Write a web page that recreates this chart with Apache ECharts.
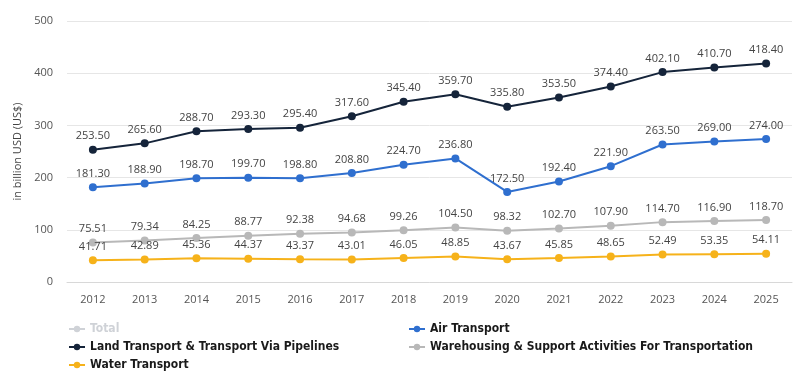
<!DOCTYPE html>
<html><head><meta charset="utf-8">
<script src="https://cdn.jsdelivr.net/npm/echarts@6/dist/echarts.min.js"></script>
<style>html,body{margin:0;padding:0;background:#fff}#c{width:800px;height:380px}</style>
</head><body><div id="c"></div>
<script>
const years = ['2012','2013','2014','2015','2016','2017','2018','2019','2020','2021','2022','2023','2024','2025'];
const total = [];
const land = [253.5,265.6,288.7,293.3,295.4,317.6,345.4,359.7,335.8,353.5,374.4,402.1,410.7,418.4];
const air = [181.3,188.9,198.7,199.7,198.8,208.8,224.7,236.8,172.5,192.4,221.9,263.5,269.0,274.0];
const warehousing = [75.51,79.34,84.25,88.77,92.38,94.68,99.26,104.5,98.32,102.7,107.9,114.7,116.9,118.7];
const water = [41.71,42.89,45.36,44.37,43.37,43.01,46.05,48.85,43.67,45.85,48.65,52.49,53.35,54.11];
const yTicks = [0,100,200,300,400,500];

const names = ['Total','Air Transport','Land Transport & Transport Via Pipelines','Warehousing & Support Activities For Transportation','Water Transport'];
const colors = {'Total':'#9a9a9a','Air Transport':'#2f6fcf','Land Transport & Transport Via Pipelines':'#15243a','Warehousing & Support Activities For Transportation':'#b8b8b8','Water Transport':'#f6b21a'};
const dataMap = {'Total':total,'Air Transport':air,'Land Transport & Transport Via Pipelines':land,'Warehousing & Support Activities For Transportation':warehousing,'Water Transport':water};

const chart = echarts.init(document.getElementById('c'));
const legendText = {fontFamily:'"DejaVu Sans Condensed", "Liberation Sans Narrow", sans-serif', fontSize:12, fontWeight:'bold', color:'#1a1a1a'};
chart.setOption({
  animation:false,
  grid:{left:67,right:8,top:21,bottom:98},
  legend:[
    {orient:'vertical',left:63,top:318,itemGap:6,itemWidth:16,itemHeight:8,itemStyle:{},textStyle:legendText,
     data:['Total','Land Transport & Transport Via Pipelines','Water Transport'],
     selected:{'Total':false}},
    {orient:'vertical',left:403,top:318,itemGap:6,itemWidth:16,itemHeight:8,textStyle:legendText,
     data:['Air Transport','Warehousing & Support Activities For Transportation']}
  ],
  xAxis:{type:'category',data:years,boundaryGap:true,
    axisLine:{show:true,lineStyle:{color:'#d8d8d8'}},axisTick:{show:false},
    axisLabel:{color:'#555',fontSize:11,fontFamily:'Open Sans, sans-serif',margin:12}},
  yAxis:{type:'value',min:yTicks[0],max:yTicks[yTicks.length-1],interval:100,
    name:'in billion USD (US$)',nameLocation:'middle',nameGap:44,
    nameTextStyle:{color:'#444',fontSize:11,fontFamily:'Open Sans, sans-serif'},
    axisLine:{show:false},axisTick:{show:false},
    splitLine:{lineStyle:{color:'#e6e6e6'}},
    axisLabel:{color:'#555',fontSize:11,fontFamily:'Open Sans, sans-serif',margin:14}},
  series:names.map(n=>({
    name:n,type:'line',data:dataMap[n],
    symbol:'circle',symbolSize:8,
    itemStyle:{color:colors[n]},
    lineStyle:{color:colors[n],width:2},
    label:{show:true,position:'top',distance:4,color:'#444',fontSize:11,fontFamily:'Open Sans, sans-serif',
      formatter:p=>Number(p.value).toFixed(2)}
  }))
});
</script></body></html>
